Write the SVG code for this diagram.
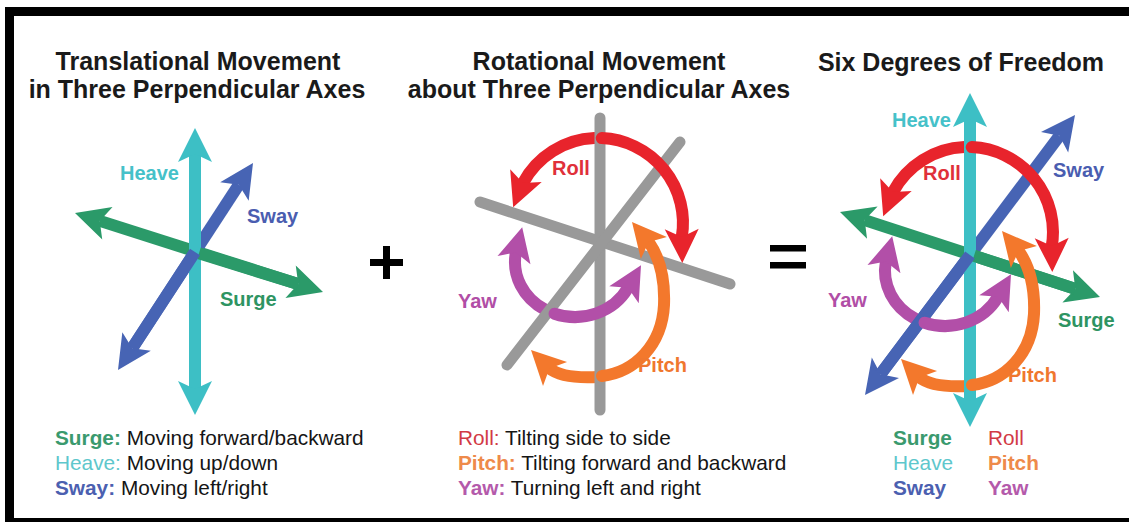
<svg xmlns="http://www.w3.org/2000/svg" xmlns:xlink="http://www.w3.org/1999/xlink" width="1129" height="522" viewBox="0 0 1129 522">
<defs>
<style>
text{font-family:"Liberation Sans",Arial,sans-serif}
.title{font-size:25px;font-weight:bold;fill:#1a1a1a;text-anchor:middle}
.lbl{font-size:20px;font-weight:bold}
.leg{font-size:20.8px;fill:#151515}
.b{font-weight:bold}
.t-green{fill:#3a9a6e}.t-cyan{fill:#5ec7cc}.t-blue{fill:#4b60b0}
.t-red{fill:#d23a45}.t-orange{fill:#ee8a4a}.t-purple{fill:#b45aab}
.sh{fill:none;stroke-width:12;stroke-linecap:butt}
.arc{fill:none;stroke-width:12;stroke-linecap:round}
.gray{stroke:#999999;stroke-width:11;stroke-linecap:round;fill:none}
.s-cyan{stroke:#3dbfc5}.f-cyan{fill:#3dbfc5}
.s-green{stroke:#2b9a69}.f-green{fill:#2b9a69}
.s-blue{stroke:#4764b4}.f-blue{fill:#4764b4}
.s-red{stroke:#e8242c}.f-red{fill:#e8242c}
.s-orange{stroke:#f3782c}.f-orange{fill:#f3782c}
.s-purple{stroke:#b24fa8}.f-purple{fill:#b24fa8}
</style>
<path id="ah" d="M0,0 L-34,-17 L-26,0 L-34,17 Z"/>
<g id="rotBack">
<path class="arc s-red" d="M594.3,138.1 A85,85 0 0 0 522.95,183.1"/>
<use xlink:href="#ah" class="f-red" transform="translate(513.2,207.2) rotate(112)"/>
<path class="arc s-purple" d="M515.9,252.45 A60,55 0 0 0 545,309.6"/>
<use xlink:href="#ah" class="f-purple" transform="translate(522.2,227.2) rotate(-76)"/>
<path class="arc s-orange" d="M598,377 C580,378 560,377 549.4,368.4"/>
<use xlink:href="#ah" class="f-orange" transform="translate(531,350) rotate(-135)"/>
</g>
<g id="rotFront">
<path class="arc s-red" d="M601.7,138.1 A85,85 0 0 1 681.8,237"/>
<use xlink:href="#ah" class="f-red" transform="translate(682.3,263) rotate(89)"/>
<path class="arc s-purple" d="M554.5,313.7 A60,55 0 0 0 628,287.8"/>
<use xlink:href="#ah" class="f-purple" transform="translate(641,265.3) rotate(-60)"/>
<path class="arc s-orange" d="M602,376 C635,372 662,345 664,305 C665,280 660,258 648.7,241.9"/>
<use xlink:href="#ah" class="f-orange" transform="translate(632,222) rotate(-130)"/>
</g>
</defs>
<rect width="1129" height="522" fill="#ffffff"/>
<g id="frame" fill="#000000">
<rect x="5" y="7" width="1124" height="9"/>
<rect x="5" y="7" width="9" height="515"/>
<rect x="5" y="518" width="1124" height="4"/>
</g>
<g id="titles">
<text class="title" x="198" y="70">Translational Movement</text>
<text class="title" x="197" y="98">in Three Perpendicular Axes</text>
<text class="title" x="599" y="70">Rotational Movement</text>
<text class="title" x="599" y="98">about Three Perpendicular Axes</text>
<text class="title" x="961" y="71">Six Degrees of Freedom</text>
</g>
<g id="operators" fill="#000000">
<rect x="370" y="259" width="33" height="7"/>
<rect x="383" y="246" width="7" height="33"/>
<rect x="770" y="245" width="36" height="6.5"/>
<rect x="770" y="262" width="36" height="6.5"/>
</g>
<g id="connectors">
<g id="translational">
<line class="sh s-green" x1="99.8" y1="220.9" x2="298.2" y2="284.1"/>
<use xlink:href="#ah" class="f-green" transform="translate(323,292) rotate(17.67)"/>
<use xlink:href="#ah" class="f-green" transform="translate(75,213) rotate(197.67)"/>
<line class="sh s-blue" x1="132.2" y1="348.2" x2="238.8" y2="184.8"/>
<use xlink:href="#ah" class="f-blue" transform="translate(253,163) rotate(-56.9)"/>
<use xlink:href="#ah" class="f-blue" transform="translate(118,370) rotate(123.1)"/>
<line class="sh s-cyan" x1="195" y1="154" x2="195" y2="389"/>
<use xlink:href="#ah" class="f-cyan" transform="translate(195,128) rotate(-90)"/>
<use xlink:href="#ah" class="f-cyan" transform="translate(195,415) rotate(90)"/>
<line class="sh s-green" x1="199" y1="253.3" x2="298.2" y2="284.1"/>
<line class="sh s-blue" x1="195" y1="252" x2="132.2" y2="348.2"/>
</g>
<g id="rotational">
<use xlink:href="#rotBack"/>
<line class="gray" x1="480" y1="202" x2="730" y2="284"/>
<line class="gray" x1="600" y1="118" x2="600" y2="410"/>
<line class="gray" x1="680" y1="142" x2="507" y2="365"/>
<use xlink:href="#rotFront"/>
</g>
<g id="six-dof">
<use xlink:href="#rotBack" transform="translate(370,9)"/>
<line class="sh s-blue" x1="880.6" y1="374.2" x2="1059.4" y2="135.8"/>
<use xlink:href="#ah" class="f-blue" transform="translate(1075,115) rotate(-53.13)"/>
<use xlink:href="#ah" class="f-blue" transform="translate(865,395) rotate(126.87)"/>
<line class="sh s-green" x1="864.7" y1="220.1" x2="1075.3" y2="288.9"/>
<use xlink:href="#ah" class="f-green" transform="translate(1100,297) rotate(18.1)"/>
<use xlink:href="#ah" class="f-green" transform="translate(840,212) rotate(198.1)"/>
<line class="sh s-cyan" x1="970" y1="119" x2="970" y2="401"/>
<use xlink:href="#ah" class="f-cyan" transform="translate(970,93) rotate(-90)"/>
<use xlink:href="#ah" class="f-cyan" transform="translate(970,427) rotate(90)"/>
<line class="sh s-green" x1="974" y1="255.8" x2="1075.3" y2="288.9"/>
<line class="sh s-blue" x1="970" y1="255" x2="880.6" y2="374.2"/>
<use xlink:href="#rotFront" transform="translate(370,9)"/>
</g>
</g>
<g id="labels">
<text class="lbl" x="120" y="180" fill="#45c1c9">Heave</text>
<text class="lbl" x="247" y="223" fill="#4a5db0">Sway</text>
<text class="lbl" x="220" y="306" fill="#2e9462">Surge</text>
<text class="lbl" x="552" y="175" fill="#e0303a">Roll</text>
<text class="lbl" x="458" y="308" fill="#b14ea6">Yaw</text>
<text class="lbl" x="638" y="372" fill="#f0772e">Pitch</text>
<text class="lbl" x="892" y="127" fill="#45c1c9">Heave</text>
<text class="lbl" x="923" y="180" fill="#e0303a">Roll</text>
<text class="lbl" x="1053" y="177" fill="#4a5db0">Sway</text>
<text class="lbl" x="828" y="307" fill="#b14ea6">Yaw</text>
<text class="lbl" x="1058" y="327" fill="#2e9462">Surge</text>
<text class="lbl" x="1008" y="382" fill="#f0772e">Pitch</text>
</g>
<g id="legend-translational">
<text class="leg" x="55" y="445"><tspan class="b t-green">Surge:</tspan> Moving forward/backward</text>
<text class="leg" x="55" y="470"><tspan class="t-cyan">Heave:</tspan> Moving up/down</text>
<text class="leg" x="55" y="495"><tspan class="b t-blue">Sway:</tspan> Moving left/right</text>
</g>
<g id="legend-rotational">
<text class="leg" x="458" y="445"><tspan class="t-red">Roll:</tspan> Tilting side to side</text>
<text class="leg" x="458" y="470"><tspan class="b t-orange">Pitch:</tspan> Tilting forward and backward</text>
<text class="leg" x="458" y="495"><tspan class="b t-purple">Yaw:</tspan> Turning left and right</text>
</g>
<g id="legend-six-dof">
<text class="leg b t-green" x="893" y="445">Surge</text>
<text class="leg t-cyan" x="893" y="470">Heave</text>
<text class="leg b t-blue" x="893" y="495">Sway</text>
<text class="leg t-red" x="988" y="445">Roll</text>
<text class="leg b t-orange" x="988" y="470">Pitch</text>
<text class="leg b t-purple" x="988" y="495">Yaw</text>
</g>
</svg>
